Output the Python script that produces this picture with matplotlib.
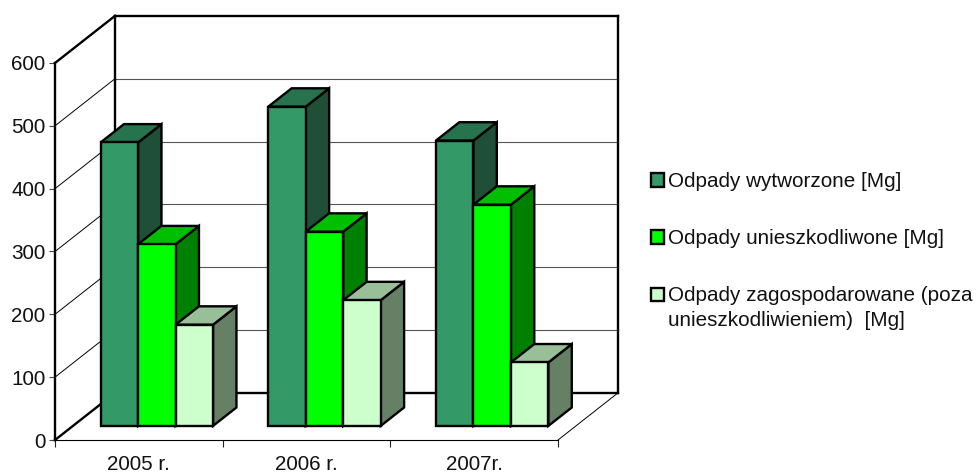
#!/usr/bin/env python3
# -*- coding: utf-8 -*-
import matplotlib
matplotlib.use('Agg')
import matplotlib.pyplot as plt
from matplotlib.patches import Polygon, Rectangle

plt.rcParams['font.family'] = ['Liberation Sans', 'DejaVu Sans']

years = ['2005 r.', '2006 r.', '2007r.']
series_names = ['Odpady wytworzone [Mg]',
                'Odpady unieszkodliwone [Mg]',
                'Odpady zagospodarowane (poza\nunieszkodliwieniem)  [Mg]']
wytworzone = [451, 508, 454]
unieszkodliwione = [289, 309, 352]
zagospodarowane = [161, 200, 101]
y_ticks = [0, 100, 200, 300, 400, 500, 600]

front_colors = ['#339966', '#00ff00', '#ccffcc']
top_colors = ['#26734d', '#00bf00', '#99bf99']
side_colors = ['#1f4f36', '#008000', '#668066']

W, H = 977, 472
FS = 14.9
# depth vector of the box, in data units (cat, value)
DX = 60 / 167.67
DY = 75.0
BAR_W = 0.2236
GAP = 0.1645
D0, D1 = 0.3, 0.69

fig = plt.figure(figsize=(W / 100, H / 100), dpi=100)
ax = fig.add_axes([55 / W, (H - 440) / H, 503 / W, 377 / H])
ax.set_xlim(0, 3)
ax.set_ylim(0, 600)
ax.patch.set_visible(False)
for s in ('top', 'right'):
    ax.spines[s].set_visible(False)
ax.spines['left'].set_linewidth(1.7)
ax.spines['bottom'].set_linewidth(0.8)

ax.set_yticks(y_ticks)
ax.tick_params(axis='y', length=4, width=0.8, color='#444444', labelsize=FS, pad=3,
               labelcolor='#111111')
ax.set_xticks([0, 1, 2, 3])
ax.set_xticklabels([])
ax.tick_params(axis='x', which='major', length=5, width=0.8, color='#222222')
ax.set_xticks([0.5, 1.5, 2.5], minor=True)
ax.set_xticklabels(years, minor=True)
ax.tick_params(axis='x', which='minor', length=0, labelsize=FS, pad=10.5, labelcolor='#111111')

# walls
for v in y_ticks:
    thick = v in (0, 600)
    ax.plot([0, DX], [v, v + DY], color='k', lw=1.7 if thick else 0.7,
            clip_on=False, zorder=1)
    ax.plot([DX, 3 + DX], [v + DY, v + DY], clip_on=False, zorder=1,
            color='k' if thick else '#555555', lw=1.7 if thick else 0.8)
ax.plot([DX, DX], [DY, 600 + DY], color='k', lw=1.7, clip_on=False, zorder=1)
ax.plot([3 + DX, 3 + DX], [DY, 600 + DY], color='k', lw=1.7, clip_on=False, zorder=1)
ax.plot([3, 3 + DX], [0, DY], color='k', lw=0.7, clip_on=False, zorder=1)

# bars
all_values = [wytworzone, unieszkodliwione, zagospodarowane]
z = 3
for g in range(len(years)):
    for i, vals in enumerate(all_values):
        x0 = g + GAP + i * BAR_W + D0 * DX
        x1 = x0 + BAR_W
        base = D0 * DY
        top = vals[g] + base
        ddx = (D1 - D0) * DX
        ddy = (D1 - D0) * DY
        side = [(x1, base), (x1 + ddx, base + ddy), (x1 + ddx, top + ddy), (x1, top)]
        roof = [(x0, top), (x1, top), (x1 + ddx, top + ddy), (x0 + ddx, top + ddy)]
        front = [(x0, base), (x1, base), (x1, top), (x0, top)]
        for pts, col in ((side, side_colors[i]), (roof, top_colors[i]), (front, front_colors[i])):
            ax.add_patch(Polygon(pts, closed=True, facecolor=col, edgecolor='k', lw=1.7,
                                 joinstyle='miter', clip_on=False, zorder=z))
            z += 1

# legend
legend_y = [180, 237, 294]
for name, col, y in zip(series_names, front_colors, legend_y):
    fig.add_artist(Rectangle((650.5 / W, 1 - (y + 6.5) / H), 13 / W, 13 / H, facecolor=col,
                             edgecolor='k', lw=1.7, transform=fig.transFigure))
    fig.text(668.5 / W, 1 - (y - 8) / H, name, fontsize=FS, va='top', ha='left',
             linespacing=1.42, color='#111111')

fig.savefig('out.png', dpi=100)
